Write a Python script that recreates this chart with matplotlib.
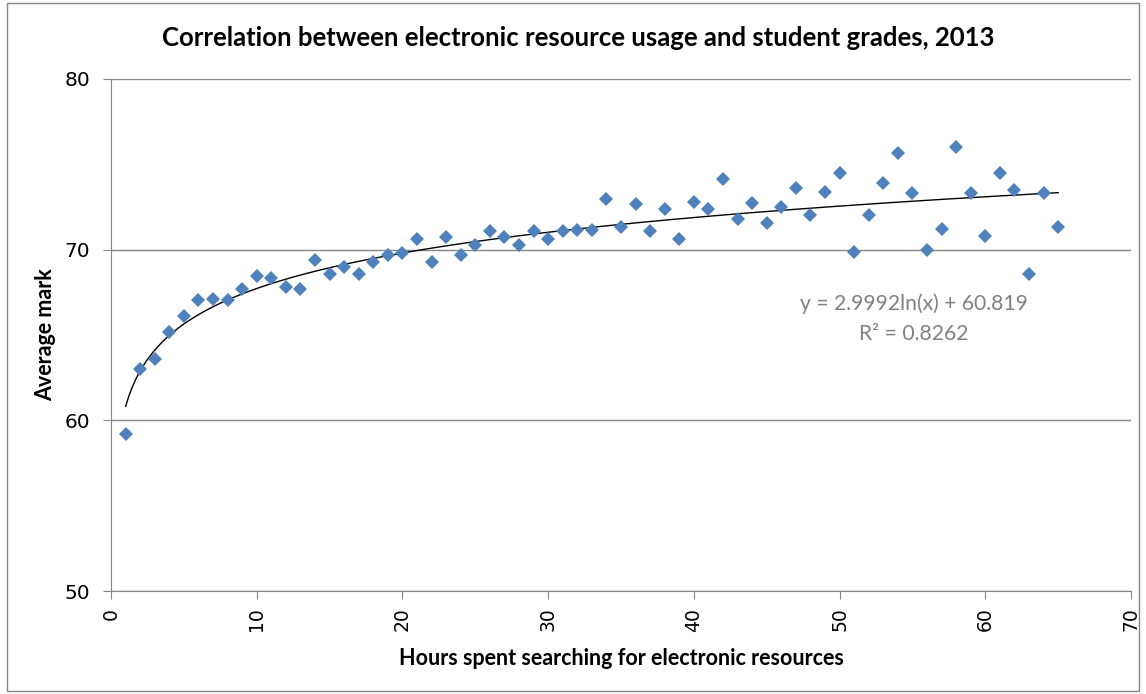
import numpy as np
import matplotlib.pyplot as plt
from matplotlib.patches import Rectangle

hours = list(range(1, 66))
marks = [59.2, 63.0, 63.6, 65.2, 66.1, 67.05, 67.1, 67.05, 67.7, 68.45,
         68.35, 67.8, 67.7, 69.4, 68.6, 69.0, 68.6, 69.3, 69.7, 69.8,
         70.65, 69.27, 70.73, 69.67, 70.26, 71.12, 70.73, 70.3, 71.08, 70.6,
         71.12, 71.16, 71.16, 72.95, 71.35, 72.65, 71.12, 72.37, 70.65, 72.82,
         72.37, 74.16, 71.8, 72.76, 71.55, 72.52, 73.6, 72.03, 73.36, 74.52,
         69.89, 72.03, 73.89, 75.65, 73.3, 69.98, 71.2, 76.0, 73.3, 70.78,
         74.5, 73.5, 68.6, 73.3, 71.3]

# Excel log trendline as printed on the chart
coef_a, coef_b = 2.9992, 60.819
r_squared = 0.8262

grey = "#868686"

fig = plt.figure(figsize=(11.46, 6.94), dpi=100)
ax = fig.add_axes([0.0969, 0.1484, 0.89, 0.7378])

fit_x = np.linspace(1, 65, 300)
ax.plot(fit_x, coef_a * np.log(fit_x) + coef_b, color="black", lw=1, zorder=2)
ax.plot(hours, marks, ls="none", marker="D", ms=7, color="#4F81BD",
        markeredgewidth=0, zorder=3)

ax.set_xlim(0, 70)
ax.set_ylim(50, 80)
ax.set_xticks(range(0, 71, 10))
ax.set_yticks([50, 60, 70, 80])
ax.grid(axis="y", color=grey, lw=1)
ax.set_axisbelow(True)
for side in ["top", "right"]:
    ax.spines[side].set_visible(False)
for side in ["left", "bottom"]:
    ax.spines[side].set_color(grey)
ax.tick_params(axis="both", color=grey, length=6)
ax.tick_params(axis="y", labelsize=14.5, pad=9)
ax.tick_params(axis="x", labelsize=13.5, pad=6, labelrotation=90)

ax.set_xlabel("Hours spent searching for electronic resources",
              fontfamily="Lato", fontweight="bold", fontsize=15.5, labelpad=12)
ax.set_ylabel("Average mark", fontfamily="Lato", fontweight="bold",
              fontsize=15.5, labelpad=6)
fig.text(0.505, 0.945,
         "Correlation between electronic resource usage and student grades, 2013",
         ha="center", va="center", fontfamily="Lato", fontweight="bold",
         fontsize=18.5)

ax.text(55.1, 65.94, "y = %.4fln(x) + %.3f\nR² = %.4f" % (coef_a, coef_b, r_squared),
        ha="center", va="center", color="#808080", fontfamily="Lato",
        fontsize=15.2, linespacing=1.6)

fig.patches.append(Rectangle((0.006, 0.004), 0.988, 0.992, transform=fig.transFigure,
                             fill=False, edgecolor=grey, lw=1))

fig.savefig("out.png")
